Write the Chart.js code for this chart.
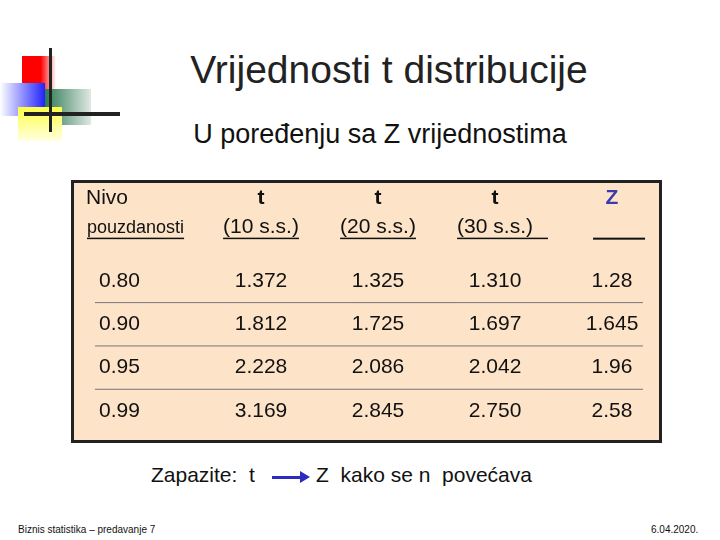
<!DOCTYPE html>
<html><head><meta charset="utf-8">
<script src="https://cdn.jsdelivr.net/npm/chart.js@4/dist/chart.umd.min.js"></script>
<style>
body{margin:0;width:720px;height:540px;background:#fff;position:relative;font-family:"Liberation Sans",Arial,sans-serif;overflow:hidden}
.a{position:absolute}
</style></head><body>
<div class="a" style="left:22px;top:56px;width:34px;height:40px;background:linear-gradient(90deg,#f00 55%,#fff)"></div>
<div class="a" style="left:0;top:83px;width:45px;height:33px;background:linear-gradient(90deg,#fff,#22f)"></div>
<div class="a" style="left:45px;top:89px;width:46px;height:36px;background:linear-gradient(90deg,#2e7a55,#dfe9e3)"></div>
<div class="a" style="left:18px;top:107px;width:44px;height:34px;background:linear-gradient(180deg,#ff4,#ffffe0)"></div>
<div class="a" style="left:49px;top:48px;width:3px;height:84px;background:#222"></div>
<div class="a" style="left:24px;top:112px;width:96px;height:4px;background:#222"></div>
<div class="a" style="left:0;top:48px;width:778px;text-align:center;font-size:39px;color:#222">Vrijednosti t distribucije</div>
<div class="a" style="left:0;top:119px;width:760px;text-align:center;font-size:27px;color:#111">U poređenju sa Z vrijednostima</div>
<div class="a" style="left:151px;top:463px;font-size:21px;color:#111">Zapazite:&nbsp; t</div>
<div class="a" style="left:272px;top:476px;width:34px;height:3px;background:#2b2bc0"></div>
<div class="a" style="left:300px;top:471px;width:0;height:0;border-left:10px solid #2b2bc0;border-top:6px solid transparent;border-bottom:6px solid transparent"></div>
<div class="a" style="left:316px;top:463px;font-size:21px;color:#111">Z&nbsp; kako se n&nbsp; povećava</div>
<div class="a" style="left:18px;top:524px;font-size:10px;color:#111">Biznis statistika – predavanje 7</div>
<div class="a" style="left:651px;top:524px;font-size:10px;color:#111">6.04.2020.</div>
<div class="a" style="left:71px;top:180px;width:591px;height:263px"><canvas id="c"></canvas></div>
<script>
const headers1=["Nivo","t","t","t","Z"];
const headers2=["pouzdanosti","(10 s.s.)","(20 s.s.)","(30 s.s.)","____"];
const levels=["0.80","0.90","0.95","0.99"];
const t10=["1.372","1.812","2.228","3.169"];
const t20=["1.325","1.725","2.086","2.845"];
const t30=["1.310","1.697","2.042","2.750"];
const zVals=["1.28","1.645","1.96","2.58"];
const cols=[levels,t10,t20,t30,zVals];
const pts=[];cols.forEach((c,i)=>c.forEach((v,j)=>pts.push({x:i,y:j,t:v})));
const plug={id:'tbl',
beforeDraw(ch){const c=ch.ctx;c.save();c.fillStyle='#fde3c8';c.fillRect(0,0,ch.width,ch.height);c.strokeStyle='#222';c.lineWidth=3;c.strokeRect(1.5,1.5,ch.width-3,ch.height-3);c.restore();},
afterDatasetsDraw(ch){const c=ch.ctx,x=ch.scales.x,y=ch.scales.y;c.save();c.textBaseline='middle';c.fillStyle='#111';
 const colX=i=>i==0?x.getPixelForValue(0)-45:x.getPixelForValue(i);
 c.font='21px "Liberation Sans"';
 pts.forEach(p=>{c.textAlign=p.x==0?'left':'center';c.fillText(p.t,colX(p.x),y.getPixelForValue(p.y));});
 [0,1,2].forEach(j=>{const yy=(y.getPixelForValue(j)+y.getPixelForValue(j+1))/2;c.strokeStyle='#777';c.lineWidth=1;c.beginPath();c.moveTo(24,yy);c.lineTo(572,yy);c.stroke();});
 headers1.forEach((h,i)=>{c.textAlign=i==0?'left':'center';c.font=i==0?'21px "Liberation Sans"':'bold 21px "Liberation Sans"';c.fillStyle=i==4?'#3b3bb0':'#111';c.fillText(h,i==0?15:colX(i),y.getPixelForValue(-1.92));});
 c.fillStyle='#111';
 headers2.forEach((h,i)=>{const yy=y.getPixelForValue(-1.23);let xx,w;if(i==0){c.font='18px "Liberation Sans"';c.textAlign='left';xx=16;c.fillText(h,xx,yy);w=c.measureText(h).width;c.fillRect(xx,yy+10,w,1.5);}
  else if(i==4){c.fillRect(colX(4)-19,yy+10,52,2);}
  else{c.font='21px "Liberation Sans"';c.textAlign='center';xx=colX(i);c.fillText(h,xx,yy);w=c.measureText(h).width;c.fillRect(xx-w/2,yy+10,i==3?w+15:w,1.5);}});
 c.restore();}};
new Chart(document.getElementById('c'),{type:'scatter',data:{datasets:[{data:pts,pointRadius:0}]},
options:{responsive:true,maintainAspectRatio:false,animation:false,layout:{padding:0},
plugins:{legend:{display:false},tooltip:{enabled:false}},
scales:{x:{type:'linear',display:false,min:-0.624,max:4.427},y:{type:'linear',display:false,reverse:true,min:-2.33,max:3.74}}},plugins:[plug]});
</script></body></html>
